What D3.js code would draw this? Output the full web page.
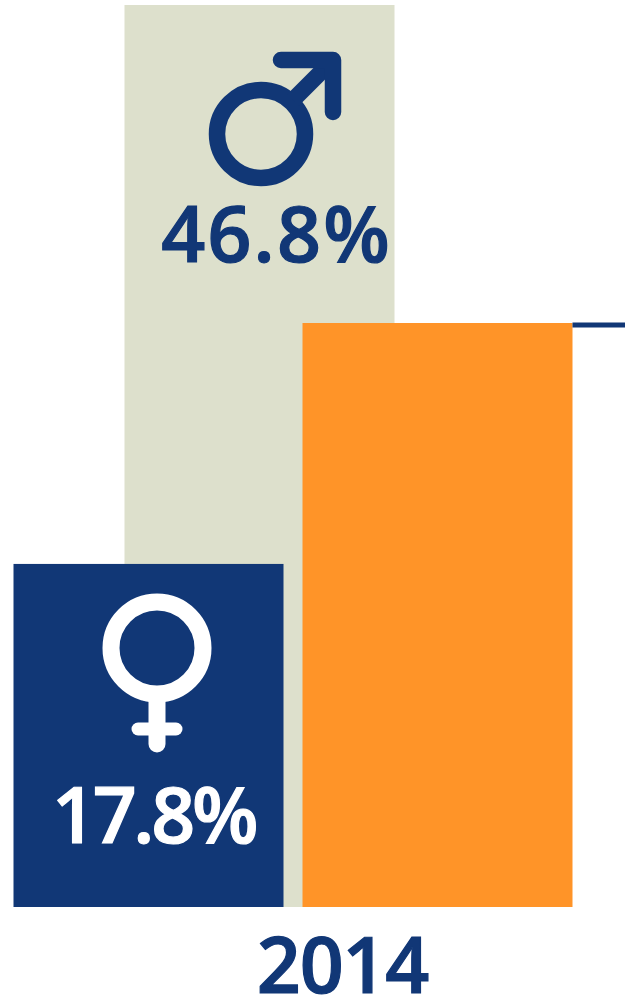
<!DOCTYPE html>
<html>
<head>
<meta charset="utf-8">
<script src="https://cdn.jsdelivr.net/npm/d3@7"></script>
<style>
  html, body { margin: 0; padding: 0; background: #fff; }
  svg { display: block; }
  text { font-family: "Open Sans", sans-serif; font-weight: 600; stroke-width: 1.2px; }
</style>
</head>
<body>
<script>
// values
const years = ["2014"];
const categories = ["Men", "Women", "Total"];
const shares = [46.8, 17.8, 30.3];
const shareLabels = ["46.8%", "17.8%", ""];
const trendShares = [30.2, 30.2];

const width = 625, height = 998;
const navy = "#113776", beige = "#dde0cc", orange = "#ff9428";

const svg = d3.select("body").append("svg")
  .attr("width", width)
  .attr("height", height);

const y = d3.scaleLinear().domain([0, 46.8]).range([907, 5]);
// the three bars overlap, so each one has its own left edge
const barLeft = d3.scaleOrdinal().domain(categories).range([124.5, 13.5, 302.5]);
const barFill = d3.scaleOrdinal().domain(categories).range([beige, navy, orange]);
const barWidth = 270;

svg.selectAll("rect.bar")
  .data(categories)
  .enter().append("rect")
  .attr("class", "bar")
  .attr("x", d => barLeft(d))
  .attr("y", (d, i) => y(shares[i]))
  .attr("width", barWidth)
  .attr("height", (d, i) => y(0) - y(shares[i]))
  .attr("fill", d => barFill(d));

// line going off to the next year, only its start is in the picture
const line = d3.line()
  .x((d, i) => [barLeft("Total") + barWidth, width][i])
  .y(d => y(d));

svg.append("path")
  .datum(trendShares)
  .attr("d", line)
  .attr("fill", "none")
  .attr("stroke", navy)
  .attr("stroke-width", 5);

// male symbol
const male = svg.append("g")
  .attr("fill", "none")
  .attr("stroke", navy)
  .attr("stroke-width", 16.5)
  .attr("stroke-linecap", "round")
  .attr("stroke-linejoin", "round");
male.append("circle").attr("cx", 261).attr("cy", 134).attr("r", 44);
male.append("path").attr("d", "M293,100L333,60").attr("stroke-linecap", "butt");
male.append("path").attr("d", "M281,60H333V112");

// female symbol
const female = svg.append("g")
  .attr("fill", "none")
  .attr("stroke", "#fff")
  .attr("stroke-linecap", "round");
female.append("circle").attr("cx", 157).attr("cy", 648).attr("r", 46).attr("stroke-width", 17);
female.append("path").attr("d", "M157,700V744").attr("stroke-width", 17);
female.append("path").attr("d", "M138,729H176").attr("stroke-width", 13);

// value labels
svg.append("text")
  .attr("x", 276.5).attr("y", 262)
  .attr("text-anchor", "middle")
  .attr("font-size", 77)
  .attr("letter-spacing", 2.2)
  .attr("fill", navy)
  .attr("stroke", navy)
  .text(shareLabels[0]);

svg.append("text")
  .attr("x", 153.5).attr("y", 843)
  .attr("text-anchor", "middle")
  .attr("font-size", 77)
  .attr("letter-spacing", -3.3)
  .attr("fill", "#fff")
  .attr("stroke", "#fff")
  .text(shareLabels[1]);

// year axis
const x = d3.scalePoint().domain(years).range([342, 342]);
const xAxis = d3.axisBottom(x).tickSize(0).tickPadding(0);
const xAxisGroup = svg.append("g")
  .attr("transform", "translate(0,907)")
  .call(xAxis);
xAxisGroup.select(".domain").remove();
xAxisGroup.selectAll("text")
  .attr("y", 86)
  .attr("dy", 0)
  .attr("font-size", 77)
  .attr("letter-spacing", -1.2)
  .attr("fill", navy)
  .attr("stroke", navy)
  .style("font-family", "'Open Sans', sans-serif")
  .style("font-weight", 600);
</script>
</body>
</html>
